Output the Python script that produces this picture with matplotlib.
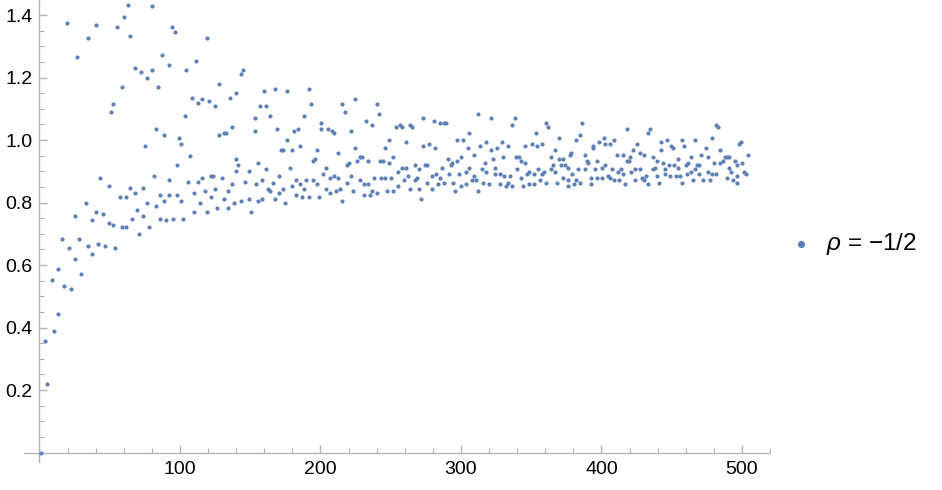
import matplotlib
matplotlib.use("Agg")
import matplotlib.pyplot as plt
from matplotlib.ticker import MultipleLocator, FixedLocator

plt.rcParams['font.family'] = ['Liberation Sans', 'DejaVu Sans']
plt.rcParams['mathtext.fontset'] = 'custom'
plt.rcParams['mathtext.it'] = 'Liberation Sans:italic'
plt.rcParams['mathtext.rm'] = 'Liberation Sans'

series_label = r'$\rho$ = −1/2'

# early points (n < ~40, lower values)
n_early = [1.1, 4.2, 5.6, 8.7, 10.1, 13.2, 13.2, 17.7, 22.2, 25.3, 29.8, 37.4]
y_early = [0.0, 0.356, 0.220, 0.553, 0.390, 0.586, 0.444, 0.533, 0.525, 0.620, 0.573, 0.634]

# n up to ~150
n_a = [63.0, 79.8, 19.3, 40.5, 60.1, 55.4, 34.3, 64.6, 94.5, 96.2, 119.0, 26.7, 86.9, 111.4,
       67.7, 91.9, 72.2, 79.8, 104.0, 76.7, 58.7, 84.3, 128.0, 143.2, 144.6, 52.5, 108.3,
       115.9, 112.8, 120.6, 125.1, 135.6, 140.1, 51.1, 103.8, 82.7, 99.3, 88.6, 100.9, 128.0,
       131.1, 132.5, 137.0, 74.8, 106.9, 139.6, 141.0, 149.1, 97.6, 81.2, 43.3, 49.5, 105.4,
       112.8, 115.9, 122.0, 123.7, 129.6, 137.0, 140.1, 146.0, 91.9, 57.1, 61.6, 64.6, 67.7,
       73.7, 85.8, 91.9, 97.9, 100.7, 109.9, 117.5, 122.0, 125.1, 133.9, 32.9, 76.5, 82.7,
       88.8, 114.5, 119.0, 126.6, 131.1, 134.1, 138.7, 143.2, 149.1, 150.7, 25.3, 37.4, 40.5,
       45.0, 49.5, 52.5, 58.5, 61.6, 66.1, 69.2, 73.7, 78.2, 85.8, 90.3, 94.8, 102.4, 109.9,
       70.8, 16.3, 20.8, 28.4, 34.3, 41.9, 46.4, 54.0]
y_a = [1.432, 1.429, 1.374, 1.368, 1.395, 1.361, 1.327, 1.334, 1.361, 1.347, 1.327, 1.266, 1.273, 1.252,
       1.232, 1.239, 1.219, 1.225, 1.225, 1.198, 1.171, 1.171, 1.178, 1.211, 1.225, 1.116, 1.136,
       1.130, 1.117, 1.124, 1.110, 1.136, 1.150, 1.089, 1.076, 1.035, 1.008, 1.015, 0.988, 1.015,
       1.021, 1.021, 1.041, 0.981, 0.948, 0.940, 0.921, 0.900, 0.921, 0.885, 0.878, 0.852, 0.865,
       0.865, 0.879, 0.885, 0.885, 0.878, 0.859, 0.900, 0.865, 0.872, 0.817, 0.817, 0.845, 0.831,
       0.845, 0.824, 0.824, 0.824, 0.804, 0.831, 0.838, 0.817, 0.844, 0.838, 0.797, 0.797, 0.790,
       0.804, 0.797, 0.769, 0.783, 0.811, 0.783, 0.797, 0.804, 0.811, 0.769, 0.756, 0.743, 0.769,
       0.763, 0.735, 0.729, 0.722, 0.722, 0.749, 0.777, 0.756, 0.721, 0.749, 0.743, 0.749, 0.749, 0.769,
       0.701, 0.682, 0.654, 0.682, 0.661, 0.668, 0.661, 0.654]

# n ~ 150-245
n_b = [159.8, 167.4, 176.4, 191.6, 156.7, 161.5, 193.0, 164.3, 188.5, 215.5, 217.2, 224.8, 240.0, 241.4,
       153.4, 153.4, 168.8, 180.9, 184.0, 200.6, 200.6, 205.1, 208.2, 209.6, 221.7, 232.4, 236.9,
       176.4, 185.4, 171.9, 173.3, 179.5, 197.5, 212.7, 224.8, 194.7, 196.1, 155.3, 161.5, 178.1,
       203.7, 218.9, 220.3, 226.2, 227.9, 229.3, 233.8, 202.0, 170.5, 206.5, 209.6, 212.7, 221.7,
       238.3, 158.4, 153.9, 162.9, 164.3, 166.0, 173.6, 170.5, 179.5, 182.3, 185.4, 188.5, 189.9,
       194.7, 197.5, 203.7, 206.5, 211.3, 214.1, 218.6, 223.1, 227.9, 230.7, 233.8, 236.9, 240.0,
       155.3, 158.4, 167.4, 175.0, 182.3, 186.8, 191.6, 198.9, 215.5, 230.7, 235.5]
y_b = [1.158, 1.164, 1.158, 1.164, 1.110, 1.110, 1.116, 1.076, 1.076, 1.116, 1.090, 1.130, 1.116, 1.083,
       1.069, 1.029, 1.035, 1.029, 1.035, 1.055, 1.035, 1.035, 1.029, 1.021, 1.029, 1.062, 1.049,
       1.001, 0.981, 0.967, 0.967, 0.967, 0.967, 0.960, 0.974, 0.933, 0.940, 0.926, 0.906, 0.912,
       0.912, 0.919, 0.926, 0.933, 0.947, 0.947, 0.933, 0.892, 0.885, 0.878, 0.885, 0.878, 0.885,
       0.878, 0.872, 0.858, 0.844, 0.838, 0.864, 0.844, 0.830, 0.852, 0.872, 0.858, 0.844, 0.872,
       0.872, 0.858, 0.844, 0.830, 0.838, 0.844, 0.864, 0.838, 0.872, 0.858, 0.858, 0.838, 0.830,
       0.804, 0.810, 0.810, 0.797, 0.824, 0.817, 0.817, 0.817, 0.804, 0.824, 0.824]

# n ~ 242-333
n_c = [253.5, 256.3, 258.0, 263.9, 265.3, 272.9, 280.5, 285.0, 288.1, 289.5, 312.3, 321.3,
       248.9, 261.0, 245.9, 272.9, 277.4, 281.9, 297.1, 301.6, 306.1, 304.7, 313.7, 318.2, 321.3,
       325.8, 328.9, 242.3, 244.2, 248.9, 252.0, 254.9, 258.0, 261.0, 267.0, 270.1, 274.6, 276.0,
       286.4, 290.9, 292.6, 294.0, 297.1, 300.2, 306.1, 309.2, 316.8, 315.1, 318.2, 322.7, 324.4,
       330.3, 242.8, 245.9, 250.4, 259.4, 262.5, 267.0, 268.4, 279.1, 282.1, 285.2, 291.2, 298.8,
       303.3, 307.8, 309.4, 310.9, 324.4, 327.5, 330.5, 247.3, 252.0, 254.9, 263.9, 270.1, 276.0,
       279.1, 283.6, 288.1, 294.2, 295.7, 300.2, 303.3, 312.3, 315.4, 319.9, 327.5, 271.5]
y_c = [1.042, 1.049, 1.042, 1.049, 1.042, 1.069, 1.062, 1.055, 1.055, 1.055, 1.083, 1.069,
       1.001, 0.995, 0.974, 0.981, 0.987, 0.974, 1.001, 1.001, 1.021, 0.974, 0.981, 0.995, 0.967,
       0.974, 0.995, 0.933, 0.933, 0.926, 0.947, 0.899, 0.912, 0.912, 0.919, 0.906, 0.919, 0.919,
       0.912, 0.940, 0.919, 0.926, 0.933, 0.947, 0.912, 0.953, 0.926, 0.906, 0.899, 0.940, 0.912,
       0.947, 0.878, 0.878, 0.878, 0.872, 0.885, 0.872, 0.878, 0.885, 0.892, 0.878, 0.892, 0.892,
       0.899, 0.872, 0.885, 0.872, 0.892, 0.892, 0.885, 0.838, 0.838, 0.852, 0.844, 0.844, 0.864,
       0.844, 0.858, 0.864, 0.864, 0.838, 0.852, 0.858, 0.838, 0.864, 0.858, 0.858, 0.811]

# n ~ 332-420
n_d = [338.2, 336.5, 360.7, 362.1, 386.3, 418.4, 353.1, 369.7, 382.1, 384.9, 393.9, 393.9, 398.4,
       401.5, 402.9, 406.0, 409.1, 333.7, 345.5, 350.3, 354.5, 357.6, 366.9, 363.8, 339.4, 341.0,
       342.7, 345.8, 369.7, 372.8, 377.3, 378.7, 388.0, 389.4, 390.8, 397.0, 410.8, 415.3, 418.4,
       419.8, 339.6, 347.2, 348.6, 351.7, 354.8, 357.6, 359.3, 363.8, 365.2, 366.9, 371.1, 374.2,
       375.9, 379.0, 383.5, 388.0, 395.6, 400.1, 402.9, 407.7, 411.9, 413.6, 415.3, 332.2, 333.7,
       335.1, 336.5, 342.7, 344.1, 348.6, 351.7, 356.4, 360.7, 368.3, 372.8, 375.9, 375.9, 380.4,
       381.8, 384.9, 392.5, 392.5, 397.0, 400.1, 404.6, 406.0, 409.1, 412.2, 416.7]
y_d = [1.069, 1.049, 1.055, 1.042, 1.055, 1.035, 1.021, 1.007, 1.001, 1.015, 0.981, 0.974, 0.995,
       1.007, 0.987, 0.987, 1.001, 0.981, 0.981, 0.987, 0.981, 0.987, 0.967, 0.947, 0.947, 0.947,
       0.933, 0.926, 0.940, 0.940, 0.953, 0.960, 0.953, 0.933, 0.926, 0.933, 0.953, 0.953, 0.933,
       0.933, 0.906, 0.892, 0.899, 0.892, 0.906, 0.892, 0.899, 0.906, 0.919, 0.899, 0.919, 0.919,
       0.912, 0.892, 0.906, 0.906, 0.906, 0.912, 0.919, 0.906, 0.899, 0.906, 0.892, 0.852, 0.864,
       0.885, 0.852, 0.878, 0.852, 0.858, 0.858, 0.872, 0.864, 0.864, 0.878, 0.872, 0.852, 0.858,
       0.872, 0.864, 0.878, 0.858, 0.878, 0.878, 0.885, 0.878, 0.872, 0.872, 0.858]

# n ~ 420-504
n_e = [433.3, 434.8, 481.7, 483.2, 478.7, 498.1, 499.5, 425.5, 422.7, 427.4, 430.3, 442.4, 446.9,
       442.4, 449.7, 451.1, 457.3, 459.0, 466.6, 474.1, 471.1, 475.6, 484.6, 487.7, 490.8, 499.8,
       504.3, 420.3, 421.2, 424.1, 427.2, 436.4, 439.3, 444.0, 448.3, 451.4, 454.5, 454.5, 460.4,
       461.8, 463.5, 468.0, 469.4, 480.1, 484.6, 486.2, 489.1, 495.3, 490.8, 492.2, 496.7, 501.2,
       502.8, 424.1, 428.8, 430.3, 431.9, 433.3, 436.4, 437.9, 439.5, 440.9, 445.4, 445.4, 448.5,
       453.0, 456.1, 457.5, 460.6, 463.5, 465.1, 466.8, 469.6, 472.5, 475.6, 477.0, 478.7, 481.7,
       489.3, 493.8, 496.7, 496.7]
y_e = [1.021, 1.035, 1.049, 1.042, 1.007, 0.987, 0.995, 0.987, 0.967, 0.960, 0.953, 0.995, 1.001,
       0.967, 0.981, 0.974, 1.001, 0.981, 1.001, 0.974, 0.953, 0.947, 0.967, 0.947, 0.947, 0.926,
       0.953, 0.947, 0.899, 0.906, 0.906, 0.947, 0.933, 0.926, 0.919, 0.919, 0.940, 0.912, 0.919,
       0.926, 0.947, 0.919, 0.919, 0.926, 0.926, 0.933, 0.947, 0.933, 0.912, 0.899, 0.919, 0.899,
       0.892, 0.872, 0.878, 0.872, 0.885, 0.858, 0.906, 0.912, 0.885, 0.864, 0.906, 0.892, 0.885,
       0.885, 0.885, 0.864, 0.892, 0.899, 0.872, 0.906, 0.892, 0.872, 0.899, 0.872, 0.892, 0.892,
       0.878, 0.872, 0.864, 0.885]

x_ticks = [100, 200, 300, 400, 500]
y_ticks = [0.2, 0.4, 0.6, 0.8, 1.0, 1.2, 1.4]

n_all = n_early + n_a + n_b + n_c + n_d + n_e
y_all = y_early + y_a + y_b + y_c + y_d + y_e

color = '#5E81B5'
axis_gray = '#b3b3b3'

fig = plt.figure(figsize=(9.42, 4.90), dpi=100)
ax = fig.add_axes([24/942, 1 - 461.7/490, (770 - 24)/942, 461.7/490])

sc = ax.scatter(n_all, y_all, s=9, color=color, linewidths=0, label=series_label, zorder=3)

ax.set_xlim(-11, 520)
ax.set_ylim(-0.029, 1.448)

for side in ['top', 'right']:
    ax.spines[side].set_visible(False)
ax.spines['left'].set_position(('data', 0))
ax.spines['bottom'].set_position(('data', 0))
for side in ['left', 'bottom']:
    ax.spines[side].set_color(axis_gray)
    ax.spines[side].set_linewidth(1.0)

ax.xaxis.set_major_locator(FixedLocator(x_ticks))
ax.yaxis.set_major_locator(FixedLocator(y_ticks))
ax.xaxis.set_minor_locator(MultipleLocator(20))
ax.yaxis.set_minor_locator(MultipleLocator(0.05))
ax.set_xticklabels([str(v) for v in x_ticks])
ax.set_yticklabels([f"{v:.1f}" for v in y_ticks])

ax.tick_params(axis='both', which='both', direction='in', color=axis_gray,
               labelcolor='black', labelsize=14)
ax.tick_params(axis='both', which='major', length=6, width=1.0)
ax.tick_params(axis='both', which='minor', length=3.6, width=0.8)
ax.tick_params(axis='x', which='major', pad=6)
ax.tick_params(axis='y', which='major', pad=5)

ax.patch.set_visible(False)

fig.legend(handles=[sc], labels=[series_label], loc='center left',
           bbox_to_anchor=(788.5/942, 1 - 244/490), frameon=False,
           fontsize=17.5, markerscale=1.7, handlelength=1.0, handletextpad=0.55,
           borderpad=0, borderaxespad=0)

fig.savefig('out.png', dpi=100)
